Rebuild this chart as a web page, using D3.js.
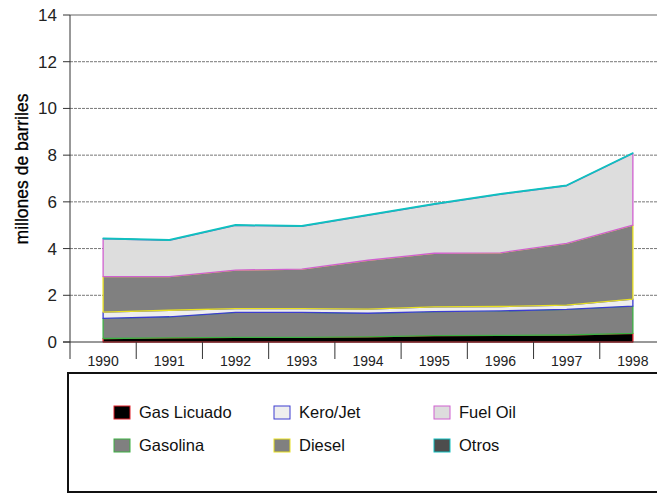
<!DOCTYPE html>
<meta charset="utf-8">
<head>
<style>
body { margin: 0; background: #fff; }
text { font-family: Arial, "Liberation Sans", sans-serif; }
</style>
</head>
<body>
<div id="chart"></div>
<script src="https://d3js.org/d3.v7.min.js"></script>
<script>

// data (millones de barriles)
const years = ["1990","1991","1992","1993","1994","1995","1996","1997","1998"];
const gasLicuado = [0.15, 0.18, 0.20, 0.20, 0.22, 0.27, 0.28, 0.30, 0.37];
const gasolina   = [0.86, 0.90, 1.07, 1.07, 1.01, 1.03, 1.05, 1.10, 1.17];
const keroJet    = [0.27, 0.28, 0.16, 0.16, 0.18, 0.20, 0.19, 0.18, 0.30];
const diesel     = [1.52, 1.44, 1.65, 1.69, 2.09, 2.30, 2.30, 2.64, 3.16];
const fuelOil    = [1.62, 1.55, 1.91, 1.83, 1.92, 2.09, 2.50, 2.47, 3.07];
const otros      = [0.03, 0.03, 0.03, 0.03, 0.03, 0.03, 0.03, 0.03, 0.03];
const seriesNames = ["Gas Licuado", "Gasolina", "Kero/Jet", "Diesel", "Fuel Oil", "Otros"];
const yTicks = [0, 2, 4, 6, 8, 10, 12, 14];

const fills   = ["#000000", "#808080", "#eeeeee", "#808080", "#dddddd", "#4d4d4d"];
const strokes = ["#e0202a", "#3cb043", "#3c3cd0", "#e8e020", "#d060d0", "#10c0c0"];

const width = 657, height = 495;
const plotL = 70, plotR = 666, plotT = 15, plotB = 342;

const svg = d3.select("#chart").append("svg")
    .attr("width", width)
    .attr("height", height);

// build table for stacking
const table = years.map((yr, i) => ({
    year: yr,
    "Gas Licuado": gasLicuado[i],
    "Gasolina": gasolina[i],
    "Kero/Jet": keroJet[i],
    "Diesel": diesel[i],
    "Fuel Oil": fuelOil[i],
    "Otros": otros[i]
}));
const stacked = d3.stack().keys(seriesNames)(table);

const x = d3.scaleBand().domain(years).range([plotL, plotR]);
const y = d3.scaleLinear().domain([0, 14]).range([plotB, plotT]);

// gridlines
svg.append("g").selectAll("line")
    .data(yTicks.filter(t => t > 0 && t < 14))
    .enter().append("line")
    .attr("x1", plotL).attr("x2", width)
    .attr("y1", d => y(d)).attr("y2", d => y(d))
    .attr("stroke", "#777")
    .attr("stroke-dasharray", "3,1");
svg.append("line")
    .attr("x1", plotL).attr("x2", width)
    .attr("y1", y(14)).attr("y2", y(14))
    .attr("stroke", "#999").attr("stroke-width", 1.5);

// stacked areas
const area = d3.area()
    .x(d => x(d.data.year) + x.bandwidth() / 2)
    .y0(d => y(d[0]))
    .y1(d => y(d[1]));

svg.append("g").selectAll("path")
    .data(stacked)
    .enter().append("path")
    .attr("d", d => area(d) + "Z")
    .attr("fill", (d, i) => fills[i])
    .attr("stroke", (d, i) => strokes[i])
    .attr("stroke-width", 1.3)
    .attr("stroke-linejoin", "round");

// y axis
const yAxis = svg.append("g");
yAxis.append("line")
    .attr("x1", plotL).attr("x2", plotL)
    .attr("y1", plotT).attr("y2", 359)
    .attr("stroke", "#333");
yAxis.selectAll(".tk").data(yTicks).enter().append("line")
    .attr("x1", plotL - 7).attr("x2", plotL)
    .attr("y1", d => y(d)).attr("y2", d => y(d))
    .attr("stroke", "#333");
yAxis.selectAll("text").data(yTicks).enter().append("text")
    .attr("x", 57)
    .attr("y", d => y(d))
    .attr("dy", "0.35em")
    .attr("text-anchor", "end")
    .attr("font-size", 17)
    .attr("fill", "#222")
    .text(d => d);

svg.append("text")
    .attr("transform", "translate(28,169) rotate(-90)")
    .attr("text-anchor", "middle")
    .attr("font-size", 17.5)
    .attr("fill", "#000")
    .attr("stroke", "#000")
    .attr("stroke-width", 0.3)
    .text("millones de barriles");

// x axis
const xAxis = svg.append("g");
xAxis.append("line")
    .attr("x1", plotL - 7).attr("x2", width)
    .attr("y1", plotB).attr("y2", plotB)
    .attr("stroke", "#333");
xAxis.selectAll(".tk").data(years.slice(1)).enter().append("line")
    .attr("x1", d => x(d)).attr("x2", d => x(d))
    .attr("y1", plotB).attr("y2", 359)
    .attr("stroke", "#333");
xAxis.selectAll("text").data(years).enter().append("text")
    .attr("x", d => x(d) + x.bandwidth() / 2)
    .attr("y", 366)
    .attr("text-anchor", "middle")
    .attr("font-size", 14)
    .attr("fill", "#222")
    .text(d => d);

// legend
svg.append("rect")
    .attr("x", 68).attr("y", 373)
    .attr("width", 600).attr("height", 119)
    .attr("fill", "none")
    .attr("stroke", "#111")
    .attr("stroke-width", 2);

const legendCols = [114, 274, 434];
const legendRows = [406, 439];
const leg = svg.append("g").selectAll("g")
    .data(seriesNames)
    .enter().append("g")
    .attr("transform", (d, i) => "translate(" + legendCols[Math.floor(i / 2)] + "," + legendRows[i % 2] + ")");
leg.append("rect")
    .attr("width", 16).attr("height", 13)
    .attr("fill", (d, i) => fills[i])
    .attr("stroke", (d, i) => strokes[i])
    .attr("stroke-width", 1);
leg.append("text")
    .attr("x", 25).attr("y", 6.5)
    .attr("dy", "0.35em")
    .attr("font-size", 16.5)
    .attr("fill", "#111")
    .text(d => d);

</script>
</body>
</html>
